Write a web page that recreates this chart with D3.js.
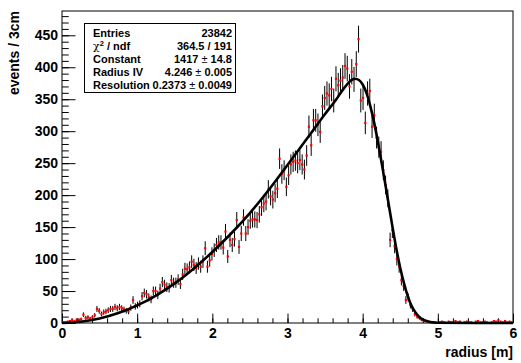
<!DOCTYPE html>
<html>
<head>
<meta charset="utf-8">
<script src="https://cdn.jsdelivr.net/npm/d3@7"></script>
<style>
  body { margin: 0; background: #fff; }
  text { font-family: "Liberation Sans", Arial, Helvetica, sans-serif; font-weight: bold; }
</style>
</head>
<body>
<script>
// histogram: 200 bins of 3 cm between 0 and 6 m
var binWidth = 0.03;
var counts = [
  1, 1, 2, 3, 5, 3, 5, 5, 6, 13,
  8, 9, 7, 9, 12, 22, 19, 14, 17, 18,
  20, 22, 22, 25, 23, 25, 23, 21, 19, 18,
  24, 36, 26, 28, 30, 42, 47, 45, 40, 37,
  50, 50, 44, 54, 64, 60, 56, 55, 67, 63,
  63, 68, 61, 76, 85, 84, 87, 96, 91, 86,
  93, 88, 96, 117, 88, 98, 108, 114, 122, 126,
  126, 118, 143, 104, 130, 122, 131, 161, 119, 140,
  165, 140, 150, 160, 162, 162, 161, 170, 181, 187,
  190, 209, 198, 193, 203, 210, 257, 233, 239, 213,
  231, 248, 252, 254, 250, 255, 248, 240, 262, 307,
  278, 317, 317, 310, 299, 339, 352, 359, 356, 366,
  348, 382, 372, 379, 384, 402, 398, 370, 393, 381,
  405, 444, 348, 352, 313, 359, 363, 307, 325, 290,
  275, 268, 239, 216, 195, 130, 145, 120, 100, 88,
  67, 58, 36, 40, 28, 22, 14, 10, 8, 5,
  4, 3, 2, 1, 1, 1, 0, 1, 2, 1,
  0, 2, 1, 1, 3, 1, 2, 0, 1, 2,
  1, 1, 0, 2, 3, 1, 1, 2, 1, 0,
  1, 3, 2, 4, 2, 1, 3, 1, 2, 1
];

// fitted curve
var fitR = [0, 0.25, 0.5, 0.75, 1.0, 1.25, 1.5, 1.75, 2.0, 2.25, 2.5, 2.75, 3.0, 3.25, 3.5, 3.65, 3.75,
            3.85, 3.9, 3.95, 4.0, 4.05, 4.1, 4.15, 4.2, 4.25, 4.3, 4.35, 4.4, 4.45, 4.5, 4.55, 4.6,
            4.65, 4.7, 4.75, 4.8, 4.85, 4.9, 4.95, 5.0, 5.5, 6.0];
var fitV = [0, 2, 7, 15.5, 27.5, 43, 62, 85, 111, 140, 172, 208, 247, 287, 327, 350, 367,
            380, 382, 380, 373, 360, 340, 315, 285, 252, 218, 183, 148, 115, 86, 62, 42,
            27, 17, 10, 5.5, 3, 1.5, 0.7, 0.3, 0, 0];

var xTicks = [0, 1, 2, 3, 4, 5, 6];
var yTicks = [0, 50, 100, 150, 200, 250, 300, 350, 400, 450];

var statNames = ['Entries', 'chi2', 'Constant', 'Radius IV', 'Resolution'];
var statValues = ['23842', '364.5 / 191', ['1417', '14.8'], ['4.246', '0.005'], ['0.2373', '0.0049']];

var width = 521, height = 363;
var frame = {left: 62, right: 513, top: 11, bottom: 323};

var svg = d3.select('body').append('svg')
  .attr('width', width)
  .attr('height', height);

var x = d3.scaleLinear().domain([0, 6]).range([frame.left, frame.right]);
var y = d3.scaleLinear().domain([0, 488]).range([frame.bottom, frame.top]);

// minor ticks first
svg.append('g')
  .attr('transform', 'translate(0,' + frame.bottom + ')')
  .call(d3.axisBottom(x).tickValues(d3.range(0, 30).map(function (i) { return i * 0.2; }))
    .tickSize(-4.7).tickFormat(''))
  .call(function (g) { g.select('.domain').remove(); });

svg.append('g')
  .attr('transform', 'translate(' + frame.left + ',0)')
  .call(d3.axisLeft(y).tickValues(d3.range(0, 49).map(function (i) { return i * 10; }))
    .tickSize(-6.75).tickFormat(''))
  .call(function (g) { g.select('.domain').remove(); });

// major ticks + labels
var xAxis = svg.append('g')
  .attr('transform', 'translate(0,' + frame.bottom + ')')
  .call(d3.axisBottom(x).tickValues(xTicks).tickSize(-9.4).tickPadding(5).tickFormat(d3.format('d')));
xAxis.select('.domain').remove();
xAxis.selectAll('text').attr('font-size', 14).attr('font-family', null).attr('fill', '#000');

var yAxis = svg.append('g')
  .attr('transform', 'translate(' + frame.left + ',0)')
  .call(d3.axisLeft(y).tickValues(yTicks).tickSize(-13.5).tickPadding(4).tickFormat(d3.format('d')));
yAxis.select('.domain').remove();
yAxis.selectAll('text').attr('font-size', 14).attr('font-family', null).attr('fill', '#000');

svg.selectAll('.tick line').attr('stroke', '#000');

// frame
svg.append('rect')
  .attr('x', frame.left).attr('y', frame.top)
  .attr('width', frame.right - frame.left).attr('height', frame.bottom - frame.top)
  .attr('fill', 'none').attr('stroke', '#000').attr('stroke-width', 1);

// histogram points with errors
var bins = counts.map(function (c, i) { return {r: (i + 0.5) * binWidth, n: c}; })
  .filter(function (d) { return d.n > 0; });

svg.append('g').selectAll('line')
  .data(bins)
  .enter().append('line')
  .attr('x1', function (d) { return x(d.r); })
  .attr('x2', function (d) { return x(d.r); })
  .attr('y1', function (d) { return y(d.n + Math.sqrt(d.n)); })
  .attr('y2', function (d) { return y(Math.max(0, d.n - Math.sqrt(d.n))); })
  .attr('stroke', '#000').attr('stroke-width', 1);

svg.append('g').selectAll('rect')
  .data(bins)
  .enter().append('rect')
  .attr('x', function (d) { return x(d.r) - 1.1; })
  .attr('y', function (d) { return y(d.n) - 1.1; })
  .attr('width', 2.2).attr('height', 2.2)
  .attr('fill', '#ff0000');

// fit
var fit = fitR.map(function (r, i) { return [r, fitV[i]]; });
svg.append('path')
  .datum(fit)
  .attr('fill', 'none').attr('stroke', '#000').attr('stroke-width', 2.6)
  .attr('d', d3.line()
    .x(function (d) { return x(d[0]); })
    .y(function (d) { return y(d[1]); })
    .curve(d3.curveMonotoneX));

// axis titles
svg.append('text')
  .attr('x', frame.right).attr('y', 357)
  .attr('text-anchor', 'end').attr('font-size', 14)
  .text('radius [m]');

svg.append('text')
  .attr('transform', 'translate(19,' + frame.top + ') rotate(-90)')
  .attr('text-anchor', 'end').attr('font-size', 14)
  .text('events / 3cm');

// stats box
var box = {x: 84, y: 23, w: 151, h: 69};
svg.append('rect')
  .attr('x', box.x + 0.5).attr('y', box.y + 0.5)
  .attr('width', box.w).attr('height', box.h)
  .attr('fill', '#fff').attr('stroke', '#000').attr('stroke-width', 1);

var rowY = [37, 50, 63, 76, 89];
statNames.forEach(function (name, i) {
  var t = svg.append('text').attr('x', 93).attr('y', rowY[i]).attr('font-size', 11);
  if (name === 'chi2') {
    t.append('tspan').attr('font-weight', 'normal').attr('font-family', 'DejaVu Serif').text('\u03c7');
    t.append('tspan').attr('font-size', 7.5).attr('dy', -4).text('2');
    t.append('tspan').attr('dy', 4).text(' / ndf');
  } else {
    t.text(name);
  }
  var v = svg.append('text').attr('x', 232).attr('y', rowY[i]).attr('font-size', 11).attr('text-anchor', 'end');
  var val = statValues[i];
  if (Array.isArray(val)) {
    v.append('tspan').text(val[0]);
    v.append('tspan').attr('font-weight', 'normal').text(' \u00b1 ');
    v.append('tspan').text(val[1]);
  } else {
    v.text(val);
  }
});
</script>
</body>
</html>
